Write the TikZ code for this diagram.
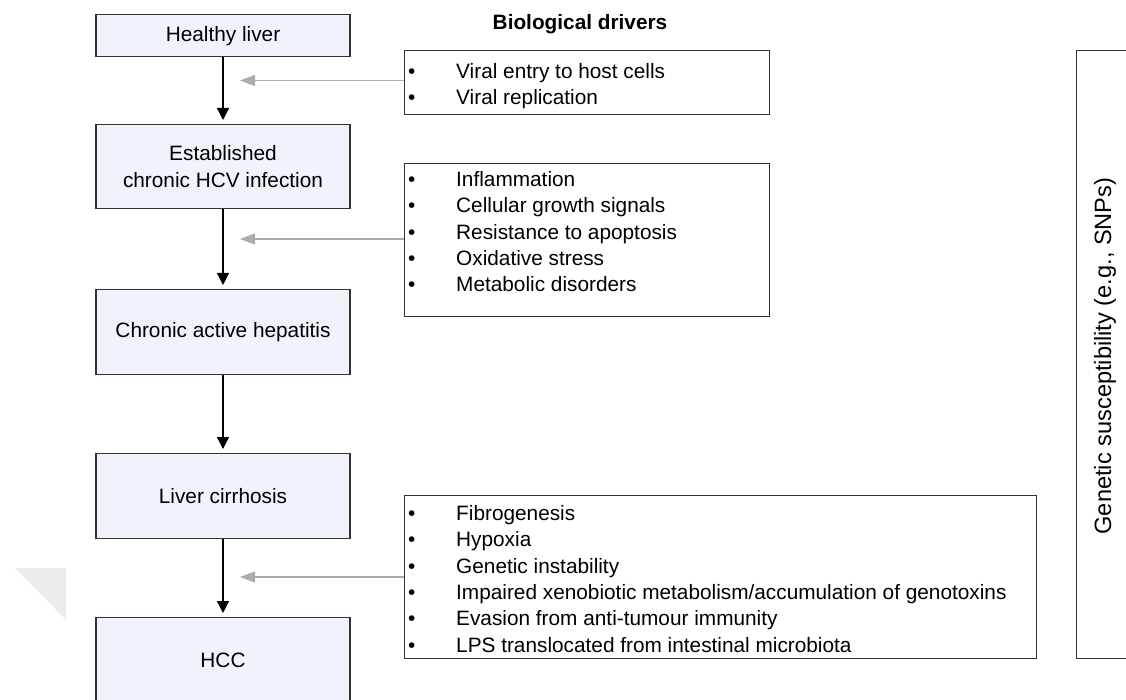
\documentclass[tikz,border=0pt]{standalone}
\usepackage{fontspec}
\setmainfont{Liberation Sans}
\usetikzlibrary{arrows.meta}
\definecolor{boxfill}{RGB}{241,243,252}
\definecolor{framecol}{RGB}{50,50,50}
\definecolor{greyarr}{RGB}{172,172,172}
\definecolor{wmcol}{RGB}{236,236,236}
\newcommand\fsz{\fontsize{20.8}{26.3}\selectfont}
\newcommand\fszbig{\fontsize{23.6}{28}\selectfont}
\tikzset{
  stage/.style={draw=framecol, line width=1.4pt, fill=boxfill, minimum width=254pt,
    anchor=north, inner sep=0pt, align=center, font=\fsz},
  frbox/.style={draw=framecol, line width=1.4pt, anchor=north west, inner sep=0pt},
  listtxt/.style={anchor=north west, inner sep=0pt, font=\fsz},
  flow/.style={-{Triangle[length=12pt,width=12pt]}, line width=1.3pt, black, shorten >=4pt},
  driver/.style={-{Triangle[length=15pt,width=11pt]}, line width=1.2pt, draw=greyarr, fill=greyarr}
}
\begin{document}
\begin{tikzpicture}[x=1pt,y=-1pt]
\useasboundingbox (0,0) rectangle (1126,700);
\clip (0,0) rectangle (1126,700);
% faint watermark triangle
\fill[wmcol] (15,568) -- (66,568) -- (66,620) -- cycle;

% stages
\node[stage, minimum height=42pt] (s1) at (223,14) {Healthy liver};
\node[stage, minimum height=84pt] (s2) at (223,124) {Established\\chronic HCV infection};
\node[stage, minimum height=85pt] (s3) at (223,289) {Chronic active hepatitis};
\node[stage, minimum height=85pt] (s4) at (223,453) {Liver cirrhosis};
\node[stage, minimum height=86pt] (s5) at (223,617) {HCC};

\draw[flow] (s1) -- (s2);
\draw[flow] (s2) -- (s3);
\draw[flow] (s3) -- (s4);
\draw[flow] (s4) -- (s5);

% title
\node[font=\fsz\bfseries, anchor=base, inner sep=0pt] (title) at (580,29.5) {Biological drivers};

% driver boxes
\node[frbox, minimum width=365pt, minimum height=64pt] (r1) at (404,50) {};
\node[frbox, minimum width=365pt, minimum height=153pt] (r2) at (404,163) {};
\node[frbox, minimum width=632pt, minimum height=163pt] (r3) at (404,495) {};

\node[listtxt] (l1) at (408,60) {\begin{tabular}{@{}p{48pt}@{}l@{}}
\textbullet & Viral entry to host cells\\
\textbullet & Viral replication
\end{tabular}};
\node[listtxt] (l2) at (408,168) {\begin{tabular}{@{}p{48pt}@{}l@{}}
\textbullet & Inflammation\\
\textbullet & Cellular growth signals\\
\textbullet & Resistance to apoptosis\\
\textbullet & Oxidative stress\\
\textbullet & Metabolic disorders
\end{tabular}};
\node[listtxt] (l3) at (408,502) {\begin{tabular}{@{}p{48pt}@{}l@{}}
\textbullet & Fibrogenesis\\
\textbullet & Hypoxia\\
\textbullet & Genetic instability\\
\textbullet & Impaired xenobiotic metabolism/accumulation of genotoxins\\
\textbullet & Evasion from anti-tumour immunity\\
\textbullet & LPS translocated from intestinal microbiota
\end{tabular}};

% grey arrows
\coordinate (g1) at (240,80.5);
\coordinate (g2) at (240,239);
\coordinate (g3) at (240,577);
\draw[driver] (g1 -| r1.west) -- (g1);
\draw[driver] (g2 -| r2.west) -- (g2);
\draw[driver] (g3 -| r3.west) -- (g3);

% genetic susceptibility box
\node[frbox, minimum width=100pt, minimum height=608pt] (gs) at (1076,50) {};
\node[font=\fszbig, rotate=90, inner sep=0pt] (gstext) at (1105,356) {Genetic susceptibility (e.g., SNPs)};
\end{tikzpicture}
\end{document}
